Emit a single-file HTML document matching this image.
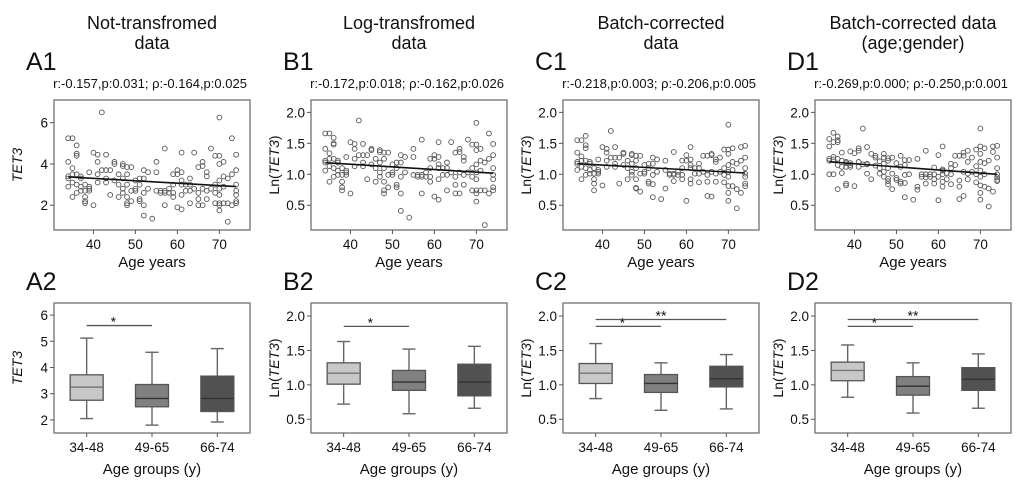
<!DOCTYPE html>
<html><head><meta charset="utf-8">
<style>
html,body{margin:0;padding:0;background:#fff;}
svg{display:block;font-family:"Liberation Sans",Arial,sans-serif;}
</style></head>
<body>
<svg id="fig" width="1020" height="495" viewBox="0 0 1020 495" xmlns="http://www.w3.org/2000/svg"></svg>
<script>
// ---- scatter data (shared ages) ----
const ages = [34,34,34,34,34,35,35,35,35,35,36,36,36,36,36,36,37,37,37,37,38,38,38,38,38,39,39,39,39,40,40,41,41,41,41,42,42,43,43,43,43,44,44,45,45,45,46,46,46,47,47,47,47,47,48,48,48,48,48,48,49,49,49,50,50,50,51,51,51,51,52,52,52,52,52,53,53,54,55,55,55,56,56,57,57,57,57,58,58,59,59,59,59,60,60,60,61,61,61,61,61,61,62,62,63,63,63,63,64,64,65,65,65,65,66,66,66,66,67,67,67,67,68,68,69,69,69,69,70,70,70,70,70,70,70,70,70,71,71,71,71,72,72,72,73,73,73,74,74,74,74,74,74,74];
const valsA = [5.25,4.1,3.3,3.4,2.9,5.25,3.8,2.4,3.1,3.5,4.9,4.5,4.4,3.5,2.6,3.0,3.4,2.7,3.3,2.9,2.2,2.1,2.4,2.7,3.0,3.6,2.9,2.7,2.8,4.55,2.0,4.45,4.1,3.5,3.1,6.5,3.7,4.45,3.7,3.3,3.1,3.7,2.5,4.1,4.0,3.2,3.5,2.4,3.0,4.0,3.9,3.3,2.6,2.8,3.85,3.5,3.0,2.1,2.0,2.4,3.85,2.7,2.2,2.8,2.7,3.2,3.3,2.3,2.2,3.0,3.7,3.3,2.0,1.5,2.6,3.6,2.8,1.35,4.1,3.6,2.7,2.7,2.6,4.75,2.7,2.6,2.0,2.8,2.6,3.5,3.0,2.4,2.6,3.7,3.5,1.9,4.55,3.6,3.2,3.0,2.5,1.8,3.0,2.7,3.3,3.0,2.7,2.1,4.55,2.8,3.85,2.6,2.3,2.0,4.1,3.9,2.8,2.0,3.6,3.4,2.7,2.3,4.75,2.8,4.4,3.0,2.6,2.1,6.25,4.4,4.0,3.2,2.8,2.5,2.1,1.75,2.0,4.1,3.4,2.9,2.1,3.3,2.1,1.2,5.25,3.5,2.0,4.45,3.7,3.0,2.7,2.5,2.2,2.1];
const valsB = [1.66,1.41,1.19,1.22,1.06,1.66,1.34,0.88,1.13,1.25,1.59,1.50,1.48,1.25,0.96,1.10,1.22,0.99,1.19,1.06,0.79,0.74,0.88,0.99,1.10,1.28,1.06,0.99,1.03,1.52,0.69,1.49,1.41,1.25,1.13,1.87,1.31,1.49,1.31,1.19,1.13,1.31,0.92,1.41,1.39,1.16,1.25,0.88,1.10,1.39,1.36,1.19,0.96,1.03,1.35,1.25,1.10,0.74,0.69,0.88,1.35,0.99,0.79,1.03,0.99,1.16,1.19,0.83,0.79,1.10,1.31,1.19,0.69,0.41,0.96,1.28,1.03,0.30,1.41,1.28,0.99,0.99,0.96,1.56,0.99,0.96,0.69,1.03,0.96,1.25,1.10,0.88,0.96,1.31,1.25,0.64,1.52,1.28,1.16,1.10,0.92,0.59,1.10,0.99,1.19,1.10,0.99,0.74,1.52,1.03,1.35,0.96,0.83,0.69,1.41,1.36,1.03,0.69,1.28,1.22,0.99,0.83,1.56,1.03,1.48,1.10,0.96,0.74,1.83,1.48,1.39,1.16,1.03,0.92,0.74,0.56,0.69,1.41,1.22,1.06,0.74,1.19,0.74,0.18,1.66,1.25,0.69,1.49,1.31,1.10,0.99,0.92,0.79,0.74];
const valsC = [1.55,1.35,1.17,1.20,1.07,1.55,1.29,0.92,1.12,1.22,1.62,1.42,1.47,1.22,0.99,1.10,1.20,1.01,1.17,1.07,0.85,0.74,0.92,1.01,1.10,1.24,1.07,1.01,1.04,1.44,0.82,1.41,1.35,1.22,1.12,1.70,1.27,1.44,1.27,1.17,1.12,1.27,0.85,1.35,1.33,1.15,1.22,0.92,1.10,1.33,1.31,1.17,0.99,1.04,1.30,1.22,1.10,0.78,0.77,0.92,1.30,1.01,0.72,1.04,1.01,1.15,1.17,0.88,0.85,1.10,1.27,1.17,0.63,0.84,0.99,1.24,1.04,0.60,1.22,1.07,0.77,1.01,0.99,1.36,1.01,0.99,0.89,1.04,0.99,1.22,1.10,0.92,0.99,1.31,1.22,0.57,1.44,1.24,1.15,1.10,0.92,0.85,1.10,1.01,1.17,1.10,1.01,0.87,1.30,1.04,1.30,0.99,0.88,0.65,1.31,1.33,1.04,0.64,1.24,1.20,1.01,0.88,1.27,1.04,1.40,1.10,0.99,0.87,1.80,1.40,1.33,1.15,1.04,0.96,0.81,0.57,0.70,1.42,1.20,1.07,0.81,1.17,0.76,0.45,1.44,1.22,0.70,1.46,1.27,1.10,1.01,0.96,0.85,0.81];
const valsD = [1.57,1.45,1.22,1.25,1.00,1.67,1.52,1.00,1.24,1.28,1.61,1.52,1.55,1.25,0.76,1.15,1.22,1.02,1.35,1.12,0.85,0.82,1.12,1.18,1.20,1.37,1.12,1.15,1.18,1.34,0.81,1.42,1.38,1.20,1.12,1.74,1.16,1.44,1.17,1.16,1.01,1.33,0.92,1.27,1.30,1.14,1.21,1.01,1.10,1.33,1.27,1.17,0.96,1.04,1.26,1.22,1.10,0.84,0.89,0.93,1.27,1.01,0.76,0.94,0.91,1.18,1.30,0.88,0.85,1.12,1.23,1.15,0.63,0.86,0.99,1.23,1.00,0.59,1.25,0.80,0.75,1.00,0.96,1.38,1.00,0.95,0.85,1.00,0.96,1.11,1.00,0.92,0.85,1.31,0.96,0.58,1.45,1.08,1.06,1.00,0.88,0.80,1.02,0.92,1.17,1.10,1.00,0.84,1.30,1.15,1.30,0.90,0.80,0.60,1.30,1.35,1.04,0.65,1.38,1.20,1.01,0.92,1.27,1.04,1.40,1.13,1.00,0.87,1.74,1.45,1.33,1.20,1.06,0.96,0.82,0.59,0.70,1.42,1.18,1.00,0.80,1.22,0.77,0.48,1.45,1.36,0.72,1.46,1.27,1.10,1.00,0.95,0.89,0.91];
const statA = "r:-0.157,p:0.031; \u03c1:-0.164,p:0.025";
const statB = "r:-0.172,p:0.018; \u03c1:-0.162,p:0.026";
const statC = "r:-0.218,p:0.003; \u03c1:-0.206,p:0.005";
const statD = "r:-0.269,p:0.000; \u03c1:-0.250,p:0.001";
const ageTicks = [40,50,60,70];
const ticksRaw = [2,4,6];
const ticksLn = [0.5,1.0,1.5,2.0];
const ticksRawBox = [2,3,4,5,6];
// ---- box plot data ----
const groups = ["34-48","49-65","66-74"];
const boxA = [[2.05,2.75,3.25,3.72,5.12],[1.8,2.5,2.82,3.35,4.58],[1.92,2.32,2.82,3.67,4.72]];
const boxB = [[0.72,1.01,1.17,1.32,1.63],[0.58,0.92,1.04,1.21,1.52],[0.66,0.84,1.04,1.30,1.56]];
const boxC = [[0.80,1.02,1.17,1.31,1.60],[0.63,0.89,1.02,1.15,1.32],[0.65,0.97,1.09,1.27,1.44]];
const boxD = [[0.82,1.06,1.21,1.33,1.58],[0.59,0.85,0.98,1.12,1.32],[0.66,0.92,1.08,1.25,1.45]];
const sigA = [[0,1,5.6,"*"]];
const sigB = [[0,1,1.85,"*"]];
const sigC = [[0,1,1.85,"*"],[0,2,1.95,"**"]];
const sigD = [[0,1,1.85,"*"],[0,2,1.95,"**"]];

const NS="http://www.w3.org/2000/svg";
const svg=document.getElementById('fig');
function el(tag,attrs,parent,txt){const e=document.createElementNS(NS,tag);for(const k in attrs)e.setAttribute(k,attrs[k]);if(txt!==undefined)e.textContent=txt;(parent||svg).appendChild(e);return e;}
function yTitle(g,x,y,ln){
  const t=el('text',{x:x,y:y,'font-size':14,'text-anchor':'middle',transform:`rotate(-90 ${x} ${y})`,fill:'#111'},g);
  
  
  if(ln){const a=el('tspan',{},t,'Ln(');const b=el('tspan',{'font-style':'italic'},t,'TET3');const c=el('tspan',{},t,')');}
  else{el('tspan',{'font-style':'italic'},t,'TET3');}
}
function scatterPanel(id,left,ages_,vals,ymin,ymax,yticks,fmt,ln,stat){
  const g=el('g',{});
  
  
  const top=100,bot=230,w=196,right=left+w;
  const xs=a=>left+(a-30.6)/(77.3-30.6)*w;
  const ys=v=>bot-(v-ymin)/(ymax-ymin)*(bot-top);
  const s=el('text',{x:left+w/2-2,y:88,'font-size':13,'text-anchor':'middle',fill:'#111'},g,stat);
  
  
  const fr=el('rect',{x:left,y:top,width:w,height:bot-top,fill:'none',stroke:'#707070','stroke-width':1.3},g);
  
  
  yticks.forEach(t=>{const y=ys(t);el('line',{x1:left-4,x2:left,y1:y,y2:y,stroke:'#555'},g);
    const tl=el('text',{x:left-6,y:y+5,'font-size':13.5,'text-anchor':'end',fill:'#111'},g,fmt(t));
    
    });
  ageTicks.forEach(t=>{const x=xs(t);el('line',{x1:x,x2:x,y1:bot,y2:bot+4,stroke:'#555'},g);
    const tl=el('text',{x:x,y:bot+19,'font-size':13.5,'text-anchor':'middle',fill:'#111'},g,String(t));
    
    });
  const xt=el('text',{x:left+w/2,y:267,'font-size':15,'text-anchor':'middle',fill:'#111'},g,'Age years');
  
  
  yTitle(g,left-32,(top+bot)/2,ln);
  ages_.forEach((a,i)=>{const c=el('circle',{cx:xs(a),cy:ys(vals[i]),r:2.4,fill:'none',stroke:'#555','stroke-width':0.9},g);
    
    });
  // regression from data
  const n=ages_.length;let mx=0,my=0;ages_.forEach((a,i)=>{mx+=a;my+=vals[i];});mx/=n;my/=n;
  let sxy=0,sxx=0;ages_.forEach((a,i)=>{sxy+=(a-mx)*(vals[i]-my);sxx+=(a-mx)*(a-mx);});
  const b=sxy/sxx,a0=my-b*mx;const x0=Math.min(...ages_),x1=Math.max(...ages_);
  const rl=el('line',{x1:xs(x0),y1:ys(a0+b*x0),x2:xs(x1),y2:ys(a0+b*x1),stroke:'#111','stroke-width':1.6},g);
  
  
}
function boxPanel(id,left,boxes,sigs,ymin,ymax,yticks,fmt,ln){
  const g=el('g',{});
  
  
  const top=303,bot=433,w=196;
  const ys=v=>bot-(v-ymin)/(ymax-ymin)*(bot-top);
  const xc=i=>left+w*(1+2*i)/6;
  const fr=el('rect',{x:left,y:top,width:w,height:bot-top,fill:'none',stroke:'#707070','stroke-width':1.3},g);
  
  
  yticks.forEach(t=>{const y=ys(t);el('line',{x1:left-4,x2:left,y1:y,y2:y,stroke:'#555'},g);
    const tl=el('text',{x:left-6,y:y+5,'font-size':13.5,'text-anchor':'end',fill:'#111'},g,fmt(t));
    
    });
  const fills=['#c8c8c8','#808080','#515151'];
  boxes.forEach((q,i)=>{const x=xc(i);const bw=33;
    el('line',{x1:x,x2:x,y1:bot,y2:bot+4,stroke:'#555'},g);
    const tl=el('text',{x:x,y:bot+19,'font-size':13.5,'text-anchor':'middle',fill:'#111'},g,groups[i]);
    
    
    el('line',{x1:x,x2:x,y1:ys(q[0]),y2:ys(q[4]),stroke:'#666','stroke-width':1.4},g);
    el('line',{x1:x-6.5,x2:x+6.5,y1:ys(q[0]),y2:ys(q[0]),stroke:'#666','stroke-width':1.4},g);
    el('line',{x1:x-6.5,x2:x+6.5,y1:ys(q[4]),y2:ys(q[4]),stroke:'#666','stroke-width':1.4},g);
    const r=el('rect',{x:x-bw/2,y:ys(q[3]),width:bw,height:ys(q[1])-ys(q[3]),fill:fills[i],stroke:'#555','stroke-width':1.3},g);
    
    
    el('line',{x1:x-bw/2,x2:x+bw/2,y1:ys(q[2]),y2:ys(q[2]),stroke:i==0?'#777':'#333','stroke-width':1.4},g);
  });
  sigs.forEach(s=>{const y=ys(s[2]);
    const ln_=el('line',{x1:xc(s[0]),x2:xc(s[1]),y1:y,y2:y,stroke:'#555','stroke-width':1.3},g);
    
    
    const st=el('text',{x:(xc(s[0])+xc(s[1]))/2+(s[1]==2?0:-6),y:y+1,'font-size':14,'text-anchor':'middle',fill:'#111'},g,s[3]);
    
    });
  const xt=el('text',{x:left+w/2,y:474,'font-size':15,'text-anchor':'middle',fill:'#111'},g,'Age groups (y)');
  
  
  yTitle(g,left-32,(top+bot)/2,ln);
}
const f0=t=>String(t), f1=t=>t.toFixed(1);
const lefts=[54,311,563,815];
const titles=[["Not-transfromed","data"],["Log-transfromed","data"],["Batch-corrected","data"],["Batch-corrected data","(age;gender)"]];
const letters=["A","B","C","D"];
titles.forEach((t,i)=>{const cx=lefts[i]+98;
  const t1=el('text',{x:cx,y:29,'font-size':18,'text-anchor':'middle',fill:'#111'},svg,t[0]);
  
  
  const t2=el('text',{x:cx,y:49,'font-size':18,'text-anchor':'middle',fill:'#111'},svg,t[1]);
  
  
  const l1=el('text',{x:lefts[i]-28,y:70,'font-size':25,fill:'#111'},svg,letters[i]+'1');
  
  
  const l2=el('text',{x:lefts[i]-28,y:290,'font-size':25,fill:'#111'},svg,letters[i]+'2');
  
  
});
scatterPanel('A1',lefts[0],ages,valsA,0.8,7.1,ticksRaw,f0,false,statA);
scatterPanel('B1',lefts[1],ages,valsB,0.1,2.2,ticksLn,f1,true,statB);
scatterPanel('C1',lefts[2],ages,valsC,0.1,2.2,ticksLn,f1,true,statC);
scatterPanel('D1',lefts[3],ages,valsD,0.1,2.2,ticksLn,f1,true,statD);
boxPanel('A2',lefts[0],boxA,sigA,1.5,6.46,ticksRawBox,f0,false);
boxPanel('B2',lefts[1],boxB,sigB,0.3,2.19,ticksLn,f1,true);
boxPanel('C2',lefts[2],boxC,sigC,0.3,2.19,ticksLn,f1,true);
boxPanel('D2',lefts[3],boxD,sigD,0.3,2.19,ticksLn,f1,true);
</script>
</body></html>
